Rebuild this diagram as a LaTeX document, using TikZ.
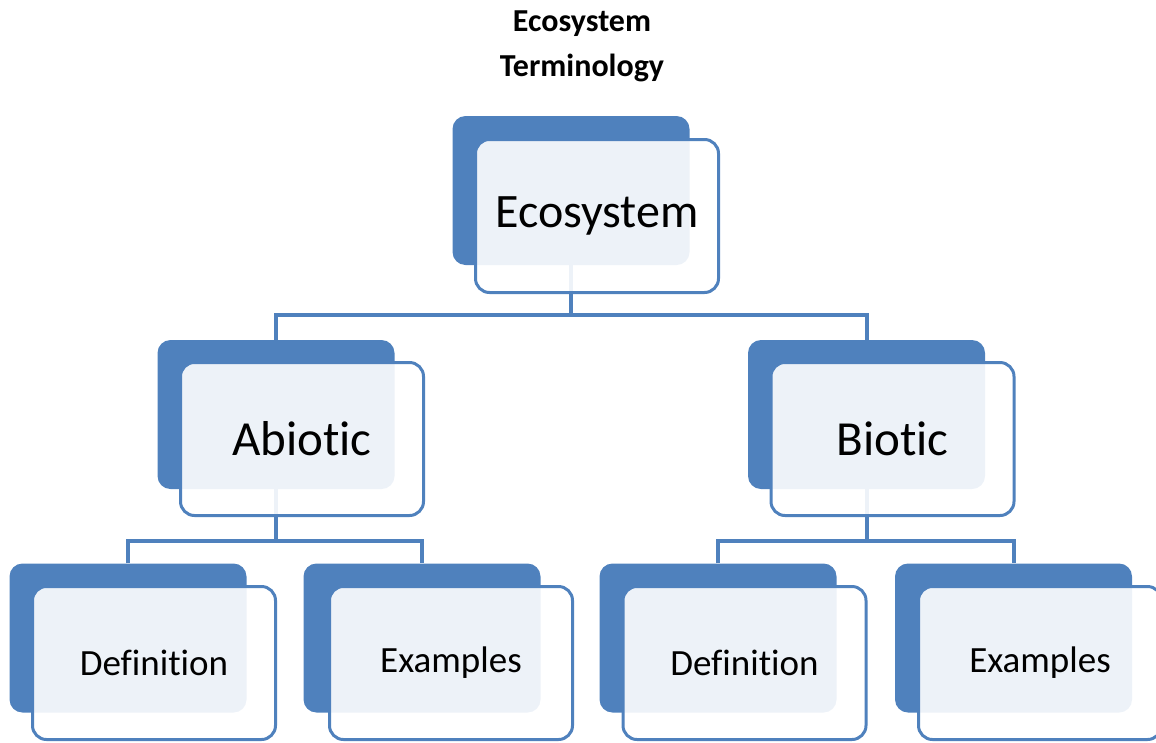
\documentclass[tikz,border=0pt]{standalone}
\usepackage{fontspec}
\setmainfont{Carlito}[Ligatures=NoCommon]
\definecolor{obl}{HTML}{4F81BD}
\tikzset{
  backbox/.style={fill=obl, draw=none, rounded corners=13pt, minimum width=237pt, minimum height=149pt, inner sep=0pt},
  frontbox/.style={fill=white, fill opacity=0.9, text opacity=1, draw=obl, line width=3pt, rounded corners=14pt, minimum width=243pt, minimum height=153pt, inner sep=0pt, text=black},
  conn/.style={draw=obl, line width=4pt},
  bigtxt/.style={font=\fontsize{48}{52}\selectfont},
  midtxt/.style={font=\fontsize{49}{53}\selectfont},
  smalltxt/.style={font=\fontsize{37}{42}\selectfont},
  titletxt/.style={font=\bfseries\fontsize{32}{36}\selectfont}
}
\begin{document}
\begin{tikzpicture}[x=1pt,y=-1pt]
\useasboundingbox (0,0) rectangle (1156,742);
% title
\node[titletxt] (t1) at (582,24) {Ecosystem};
\node[titletxt] (t2) at (582,68) {Terminology};
% back boxes
\node[backbox] (eco-b) at (571,190.5) {};
\node[backbox] (abi-b) at (276,414.5) {};
\node[backbox] (bio-b) at (866.5,414.5) {};
\node[backbox] (dl-b) at (128,638) {};
\node[backbox] (el-b) at (422,638) {};
\node[backbox] (dr-b) at (718,638) {};
\node[backbox] (er-b) at (1013.5,638) {};
% connectors
\draw[conn] (eco-b.south) -- ([yshift=-50pt]eco-b.south) coordinate (j0);
\draw[conn] (abi-b.north) |- (j0) -| (bio-b.north);
\draw[conn] (abi-b.south) -- ([yshift=-52pt]abi-b.south) coordinate (j1);
\draw[conn] (dl-b.north) |- (j1) -| (el-b.north);
\draw[conn] (bio-b.south) -- ([yshift=-52pt]bio-b.south) coordinate (j2);
\draw[conn] (dr-b.north) |- (j2) -| (er-b.north);
% front boxes
\node[frontbox, bigtxt] (eco) at (597,216) {\raisebox{-3pt}{Ecosystem}};
\node[frontbox, midtxt] (abi) at (302,439) {Abiotic};
\node[frontbox, midtxt] (bio) at (892.5,439) {Biotic};
\node[frontbox, smalltxt] (dl) at (154,663) {Definition};
\node[frontbox, smalltxt] (el) at (451,663) {\raisebox{-2pt}{Examples}};
\node[frontbox, smalltxt] (dr) at (744.5,663) {Definition};
\node[frontbox, smalltxt] (er) at (1040,663) {\raisebox{-2pt}{Examples}};
\end{tikzpicture}
\end{document}
